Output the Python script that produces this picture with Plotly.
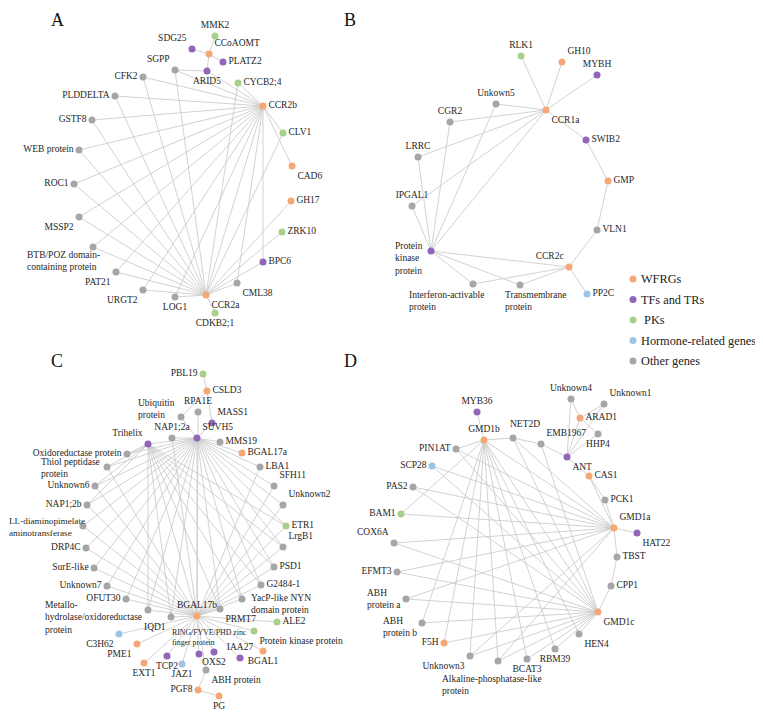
import plotly.graph_objects as go

# legend categories
categories = ["WFRGs", "TFs and TRs", " PKs", "Hormone-related genes", "Other genes"]
category_codes = ["W", "T", "P", "H", "O"]

# ---------------- panel A ----------------
a_genes = ["MMK2", "SDG25", "CCoAOMT", "PLATZ2", "SGPP", "ARID5", "CFK2", "CYCB2;4",
           "PLDDELTA", "CCR2b", "GSTF8", "CLV1", "WEB protein", "CAD6", "ROC1", "GH17",
           "MSSP2", "ZRK10", "BTB/POZ domain-containing protein", "BPC6", "PAT21", "CML38",
           "URGT2", "LOG1", "CCR2a", "CDKB2;1"]
a_types = ["P", "T", "W", "T", "O", "T", "O", "P",
           "O", "W", "O", "P", "O", "W", "O", "W",
           "O", "P", "O", "T", "O", "O",
           "O", "O", "W", "P"]
a_links = {
    "CCoAOMT": ["MMK2", "SDG25", "PLATZ2", "ARID5"],
    "ARID5": ["SGPP", "CCR2b"],
    "CCR2b": ["CYCB2;4", "SGPP", "CFK2", "PLDDELTA", "GSTF8", "WEB protein", "CLV1", "CAD6",
              "ROC1", "MSSP2", "BTB/POZ domain-containing protein", "PAT21", "URGT2", "LOG1",
              "CML38", "BPC6", "CCR2a"],
    "CCR2a": ["SGPP", "CFK2", "PLDDELTA", "GSTF8", "WEB protein", "ROC1", "MSSP2",
              "BTB/POZ domain-containing protein", "PAT21", "URGT2", "LOG1", "CML38", "BPC6",
              "ZRK10", "GH17", "CDKB2;1", "CYCB2;4", "CLV1"],
}

# ---------------- panel B ----------------
b_genes = ["RLK1", "GH10", "MYBH", "Unkown5", "CCR1a", "CGR2", "SWIB2", "LRRC", "GMP",
           "IPGAL1", "VLN1", "Protein kinase protein", "CCR2c", "Interferon-activable protein",
           "Transmembrane protein", "PP2C"]
b_types = ["P", "W", "T", "O", "W", "O", "T", "O", "W",
           "O", "O", "T", "W", "O",
           "O", "H"]
b_links = {
    "CCR1a": ["RLK1", "GH10", "MYBH", "Unkown5", "CGR2", "LRRC", "IPGAL1",
              "Protein kinase protein", "SWIB2"],
    "SWIB2": ["GMP"],
    "GMP": ["VLN1"],
    "VLN1": ["CCR2c"],
    "CCR2c": ["PP2C", "Protein kinase protein", "Interferon-activable protein",
              "Transmembrane protein"],
    "Protein kinase protein": ["Interferon-activable protein", "Transmembrane protein",
                               "IPGAL1", "LRRC", "CGR2", "Unkown5"],
}

# ---------------- panel C ----------------
c_genes = ["PBL19", "CSLD3", "Ubiquitin protein", "RPA1E", "MASS1", "NAP1;2a", "SUVH5",
           "Trihelix", "MMS19", "BGAL17a", "Oxidoreductase protein", "Thiol peptidase protein",
           "LBA1", "SFH11", "Unknown6", "NAP1;2b", "Unknown2",
           "LL-diaminopimelate aminotransferase", "ETR1", "LrgB1", "DRP4C", "SurE-like", "PSD1",
           "Unknown7", "G2484-1", "OFUT30", "YacP-like NYN domain protein",
           "Metallo-hydrolase/oxidoreductase protein", "PRMT7", "BGAL17b", "IQD1", "ALE2",
           "C3H62", "Protein kinase protein", "PME1", "RING/FYVE/PHD zinc finger protein",
           "OXS2", "BGAL1", "IAA27", "TCP2", "EXT1", "JAZ1", "ABH protein", "PGF8", "PG"]
c_types = ["P", "W", "O", "O", "T", "O", "T",
           "T", "O", "W", "O", "O",
           "O", "O", "O", "O", "O",
           "O", "P", "O", "O", "O", "O",
           "O", "O", "O", "O",
           "O", "O", "W", "O", "P",
           "H", "P", "W", "T",
           "T", "W", "T", "T", "W", "H", "O", "W", "W"]
c_left = ["Oxidoreductase protein", "Thiol peptidase protein", "Unknown6", "NAP1;2b",
          "LL-diaminopimelate aminotransferase", "DRP4C", "SurE-like", "Unknown7", "OFUT30",
          "Metallo-hydrolase/oxidoreductase protein", "IQD1"]
c_right = ["MMS19", "BGAL17a", "LBA1", "SFH11", "Unknown2", "ETR1", "LrgB1", "PSD1",
           "G2484-1", "YacP-like NYN domain protein", "PRMT7"]
c_links = {
    "CSLD3": ["PBL19", "Ubiquitin protein", "MASS1"],
    "Trihelix": ["Oxidoreductase protein", "Thiol peptidase protein", "Unknown6", "NAP1;2b",
                 "SUVH5", "BGAL17b", "PRMT7", "YacP-like NYN domain protein", "G2484-1",
                 "PSD1", "LrgB1", "ETR1", "IQD1", "Metallo-hydrolase/oxidoreductase protein"],
    "SUVH5": ["NAP1;2a", "Ubiquitin protein", "MASS1", "BGAL17b"] + c_left + c_right,
    "BGAL17b": ["RPA1E", "NAP1;2a", "ALE2", "Protein kinase protein", "BGAL1", "IAA27", "OXS2",
                "RING/FYVE/PHD zinc finger protein", "JAZ1", "TCP2", "EXT1", "PME1", "C3H62",
                "ABH protein"] + c_left[1:] + c_right[2:],
    "ABH protein": ["PGF8"],
    "PGF8": ["PG"],
}

# ---------------- panel D ----------------
d_genes = ["Unknown4", "Unknown1", "MYB36", "ARAD1", "HHP4", "NET2D", "GMD1b", "EMB1967",
           "PIN1AT", "ANT", "SCP28", "CAS1", "PAS2", "PCK1", "BAM1", "GMD1a", "HAT22",
           "COX6A", "TBST", "EFMT3", "CPP1", "ABH protein a", "GMD1c", "ABH protein b", "F5H",
           "HEN4", "RBM39", "Unknown3", "BCAT3", "Alkaline-phosphatase-like protein"]
d_types = ["O", "O", "T", "W", "O", "O", "W", "O",
           "O", "T", "H", "W", "O", "O", "P", "W", "T",
           "O", "O", "O", "O", "O", "W", "O", "W",
           "O", "O", "O", "O", "O"]
d_links = {
    "GMD1b": ["MYB36", "NET2D", "PIN1AT", "BAM1", "ABH protein b", "F5H", "Unknown3",
              "Alkaline-phosphatase-like protein", "BCAT3", "RBM39", "HEN4", "GMD1a", "GMD1c"],
    "NET2D": ["EMB1967", "GMD1a", "GMD1c"],
    "EMB1967": ["ANT", "GMD1c"],
    "ANT": ["Unknown4", "ARAD1", "HHP4", "Unknown1", "CAS1"],
    "ARAD1": ["Unknown4", "Unknown1", "HHP4"],
    "CAS1": ["PCK1", "GMD1a"],
    "GMD1a": ["PCK1", "HAT22", "TBST", "PIN1AT", "SCP28", "PAS2", "BAM1", "COX6A", "EFMT3",
              "ABH protein a", "Unknown3", "Alkaline-phosphatase-like protein"],
    "GMD1c": ["CPP1", "PIN1AT", "SCP28", "PAS2", "COX6A", "EFMT3", "ABH protein a",
              "ABH protein b", "F5H", "Unknown3", "Alkaline-phosphatase-like protein", "BCAT3",
              "RBM39", "HEN4"],
    "TBST": ["CPP1"],
}

# ---------------- node layout (window pixels) ----------------
a_x = [215, 192, 209, 223, 175, 207, 143, 238, 115, 263, 92, 283, 79, 292, 74, 291,
       79, 282, 93, 263, 116, 237, 143, 175, 206, 215]
a_y = [36, 49, 54, 62, 70, 71, 77, 83, 96, 106, 120, 133, 150, 166, 184, 201,
       217, 232, 247, 262, 272, 283, 290, 297, 295, 313]
a_pos = ["top center", "top left", "top right", "middle right", "top left", "bottom center",
         "middle left", "middle right", "middle left", "middle right", "middle left",
         "middle right", "middle left", "bottom right", "middle left", "middle right",
         "bottom left", "middle right", "bottom left", "middle right", "bottom left",
         "bottom right", "bottom left", "bottom center", "bottom right", "bottom center"]

b_x = [521, 562, 597, 496, 546, 450, 586, 418, 608, 412, 597, 431, 569, 473, 520, 587]
b_y = [56, 62, 75, 104, 110, 122, 140, 157, 181, 206, 230, 251, 267, 284, 285, 294]
b_pos = ["top center", "top right", "top center", "top center", "bottom right", "top center",
         "middle right", "top center", "middle right", "top center", "middle right",
         "middle left", "top left", "bottom left", "bottom center", "middle right"]

c_x = [203, 207, 181, 198, 212, 172, 197, 148, 220, 242, 127, 107, 260, 274, 95, 87, 283,
       83, 286, 283, 86, 94, 274, 107, 261, 126, 242, 148, 220, 197, 171, 277,
       119, 254, 137, 199, 214, 263, 240, 167, 144, 182, 206, 198, 219]
c_y = [374, 391, 417, 412, 423, 438, 438, 444, 442, 453, 454, 467, 467, 486, 486, 505, 505,
       526, 526, 547, 548, 568, 567, 586, 585, 599, 599, 610, 609, 616, 617, 622,
       634, 631, 644, 654, 652, 651, 658, 656, 663, 664, 670, 690, 696]
c_pos = ["middle left", "middle right", "top left", "top center", "top right", "top center",
         "top right", "top left", "middle right", "middle right", "middle left", "middle left",
         "middle right", "top right", "middle left", "middle left", "top right",
         "middle left", "middle right", "top right", "middle left", "middle left",
         "middle right", "middle left", "middle right", "middle left", "middle right",
         "middle left", "bottom right", "top center", "bottom left", "middle right",
         "bottom left", "bottom right", "bottom left", "top center",
         "bottom center", "bottom center", "top center", "bottom center", "bottom center",
         "bottom center", "bottom right", "middle left", "bottom center"]

d_x = [571, 604, 477, 580, 598, 513, 484, 541, 456, 567, 432, 589, 413, 605, 401, 614, 637,
       394, 617, 397, 611, 406, 598, 422, 444, 579, 555, 470, 527, 498]
d_y = [399, 404, 412, 418, 434, 438, 440, 444, 449, 457, 466, 476, 487, 500, 514, 528, 533,
       543, 557, 572, 586, 599, 612, 623, 643, 634, 649, 656, 659, 661]
d_pos = ["top center", "top right", "top center", "middle right", "bottom center",
         "top right", "top center", "top right", "middle left", "bottom right", "middle left",
         "middle right", "middle left", "middle right", "middle left", "top right",
         "bottom right", "top left", "middle right", "middle left", "middle right",
         "middle left", "bottom right", "middle left", "middle left", "bottom right",
         "bottom center", "bottom left", "bottom center", "bottom center"]

# labels drawn as left-aligned text blocks:
# text, xanchor, yanchor, shift right (px), shift down (px), font size
a_boxes = {
    "BTB/POZ domain-containing protein": ("BTB/POZ domain-<br>containing protein",
                                          "right", "top", 9, 1, 9.5),
}
b_boxes = {
    "Protein kinase protein": ("Protein<br>kinase<br>protein", "right", "middle", -6, 7, 9.5),
    "Interferon-activable protein": ("Interferon-activable<br>protein", "left", "top", -66, 4, 9.5),
    "Transmembrane protein": ("Transmembrane<br>protein", "left", "top", -17, 3, 9.5),
}
c_boxes = {
    "Ubiquitin protein": ("Ubiquitin<br>protein", "right", "middle", -4, -8, 9.5),
    "Thiol peptidase protein": ("Thiol peptidase<br>protein", "right", "middle", -5, 1, 9.5),
    "LL-diaminopimelate aminotransferase": ("LL-diaminopimelate<br>aminotransferase",
                                            "right", "middle", 4, 1, 9.2),
    "YacP-like NYN domain protein": ("YacP-like NYN<br>domain protein", "left", "middle", 7, 5, 9.5),
    "Metallo-hydrolase/oxidoreductase protein": ("Metallo-<br>hydrolase/oxidoreductase<br>protein",
                                                 "right", "middle", -4, 7, 9.5),
    "RING/FYVE/PHD zinc finger protein": ("RING/FYVE/PHD zinc<br>finger protein",
                                          "center", "middle", 10, -17, 7.8),
}
d_boxes = {
    "NET2D": ("NET2D", "center", "middle", 12, -14, 9.5),
    "ABH protein a": ("ABH<br>protein a", "right", "middle", -3, 0, 9.5),
    "ABH protein b": ("ABH<br>protein b", "right", "middle", -3, 4, 9.5),
    "Alkaline-phosphatase-like protein": ("Alkaline-phosphatase-like<br>protein",
                                          "left", "top", -58, 11, 9.5),
}

colors = {"W": "#F5A877", "T": "#9166B8", "P": "#A8D08D", "H": "#9DC3E6", "O": "#A6A6A6"}
font = "Liberation Serif"
label_color = "#262626"

# the page puts the figure 8px in from the window corner; the axes make up for it
page_offset = 8
win_w, win_h = 763, 718
fig_w, fig_h = win_w - 2 * page_offset, win_h - 2 * page_offset

panels = [
    (a_genes, a_types, a_x, a_y, a_pos, a_links, a_boxes),
    (b_genes, b_types, b_x, b_y, b_pos, b_links, b_boxes),
    (c_genes, c_types, c_x, c_y, c_pos, c_links, c_boxes),
    (d_genes, d_types, d_x, d_y, d_pos, d_links, d_boxes),
]

fig = go.Figure()

# edges
for genes, types, xs, ys, pos, links, boxes in panels:
    idx = {g: i for i, g in enumerate(genes)}
    ex, ey = [], []
    for hub, others in links.items():
        for o in others:
            ex += [xs[idx[hub]], xs[idx[o]], None]
            ey += [ys[idx[hub]], ys[idx[o]], None]
    fig.add_trace(go.Scatter(x=ex, y=ey, mode="lines", showlegend=False, hoverinfo="skip",
                             line=dict(color="#C6C6C6", width=0.8)))

# nodes, one trace per category
for cat, code in zip(categories, category_codes):
    px, py, pt, pp = [], [], [], []
    for genes, types, xs, ys, pos, links, boxes in panels:
        for i, g in enumerate(genes):
            if types[i] != code:
                continue
            px.append(xs[i])
            py.append(ys[i])
            pt.append("" if g in boxes else g)
            pp.append(pos[i])
    fig.add_trace(go.Scatter(
        x=px, y=py, mode="markers+text", name=cat, text=pt, textposition=pp,
        marker=dict(color=colors[code], size=7),
        textfont=dict(family=font, size=9.5, color=label_color),
        cliponaxis=False, showlegend=False,
    ))

# custom labels
for genes, types, xs, ys, pos, links, boxes in panels:
    for g, (txt, xa, ya, dx, dy, fs) in boxes.items():
        i = genes.index(g)
        fig.add_annotation(x=xs[i], y=ys[i], text=txt, showarrow=False, align="left",
                           xanchor=xa, yanchor=ya, xshift=dx, yshift=-dy,
                           font=dict(family=font, size=fs, color=label_color))

# legend (drawn by hand so it sits where the original has it)
leg_x, leg_y0, leg_step = 633, 279, 20.5
leg_y = [leg_y0 + k * leg_step for k in range(len(categories))]
fig.add_trace(go.Scatter(
    x=[leg_x] * len(categories), y=leg_y, mode="markers", showlegend=False,
    hoverinfo="skip", marker=dict(color=[colors[c] for c in category_codes], size=7),
))
for cat, ly in zip(categories, leg_y):
    fig.add_annotation(x=leg_x, y=ly, text=cat.replace(" ", "&nbsp;", 1) if cat.startswith(" ") else cat,
                       showarrow=False, xanchor="left", yanchor="middle", xshift=6,
                       font=dict(family=font, size=12.3, color="#222222"))

# panel letters (anchored at their top so they stay inside the page)
for letter, lx, ly in [("A", 57, 8), ("B", 350, 8), ("C", 57, 349), ("D", 350, 349)]:
    fig.add_annotation(x=lx, y=ly, text=letter, showarrow=False, yanchor="top",
                       font=dict(family=font, size=18, color="#111111"))

fig.update_xaxes(range=[page_offset, page_offset + fig_w], visible=False)
fig.update_yaxes(range=[page_offset + fig_h, page_offset], visible=False)
fig.update_layout(
    width=fig_w, height=fig_h,
    margin=dict(l=0, r=0, t=0, b=0),
    plot_bgcolor="white", paper_bgcolor="white",
    showlegend=False,
)

fig.write_html("out.html")
